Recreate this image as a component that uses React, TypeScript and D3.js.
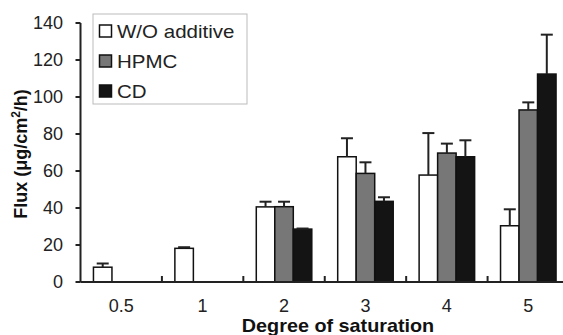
import React from "react";
import * as d3 from "d3";

const categories = ["0.5", "1", "2", "3", "4", "5"];
const seriesNames = ["W/O additive", "HPMC", "CD"];
const woAdditive = [8, 18.2, 40.6, 67.7, 57.8, 30.4];
const woAdditiveErr = [2, 0.6, 2.8, 10, 22.7, 8.9];
const hpmc = [null, null, 40.7, 58.7, 69.7, 93];
const hpmcErr = [null, null, 2.7, 6, 5.1, 4.1];
const cd = [null, null, 28.6, 43.6, 67.7, 112.4];
const cdErr = [null, null, 0.3, 2.2, 8.9, 21.3];
const yTicks = [0, 20, 40, 60, 80, 100, 120, 140];

const W = 563;
const H = 335;
const left = 80.5;
const right = 569;
const top = 23;
const bottom = 282;
const font = "'Liberation Sans', Arial, sans-serif";
const colors = ["#ffffff", "#777777", "#141414"];

export default function App() {
  const x0 = d3.scaleBand<string>().domain(categories).range([left, right]).paddingInner(0).paddingOuter(0);
  const x1 = d3.scaleBand<string>().domain(seriesNames).range([0, x0.bandwidth()]).paddingInner(0).paddingOuter(0.7);
  const y = d3.scaleLinear().domain([0, 140]).range([bottom, top]);

  const series = [
    { name: seriesNames[0], vals: woAdditive, errs: woAdditiveErr },
    { name: seriesNames[1], vals: hpmc, errs: hpmcErr },
    { name: seriesNames[2], vals: cd, errs: cdErr },
  ];

  return (
    <svg width={W} height={H} style={{ position: "absolute", left: 0, top: 0, background: "#fff" }} fontFamily={font}>
      {/* bars */}
      {series.map((s, si) =>
        categories.map((c, ci) => {
          const v = s.vals[ci];
          if (v == null) return null;
          const bx = (x0(c) as number) + (x1(s.name) as number);
          const bw = x1.bandwidth();
          return (
            <rect key={`b${si}-${ci}`} x={bx} y={y(v)} width={bw} height={bottom - y(v)}
              fill={colors[si]} stroke="#111" strokeWidth={1.5} />
          );
        })
      )}
      {/* error bars */}
      {series.map((s, si) =>
        categories.map((c, ci) => {
          const v = s.vals[ci];
          const e = s.errs[ci];
          if (v == null || e == null) return null;
          const cx = (x0(c) as number) + (x1(s.name) as number) + x1.bandwidth() / 2;
          return (
            <g key={`e${si}-${ci}`} stroke="#222" strokeWidth={2}>
              <line x1={cx} x2={cx} y1={y(v)} y2={y(v + e)} />
              <line x1={cx - 6} x2={cx + 6} y1={y(v + e)} y2={y(v + e)} />
            </g>
          );
        })
      )}
      {/* y axis */}
      <line x1={left} x2={left} y1={top} y2={bottom} stroke="#222" strokeWidth={2} />
      {yTicks.map((t) => (
        <g key={`yt${t}`}>
          <line x1={left - 5} x2={left} y1={y(t)} y2={y(t)} stroke="#222" strokeWidth={2} />
          <text x={63} y={y(t)} dy="0.35em" textAnchor="end" fontSize={18} fill="#222">{t}</text>
        </g>
      ))}
      {/* x axis */}
      <line x1={left} x2={right} y1={bottom} y2={bottom} stroke="#222" strokeWidth={2} />
      {categories.slice(1).map((c) => (
        <line key={`xt${c}`} x1={x0(c) as number} x2={x0(c) as number} y1={bottom - 6} y2={bottom} stroke="#222" strokeWidth={2} />
      ))}
      {categories.map((c) => (
        <text key={`xl${c}`} x={(x0(c) as number) + x0.bandwidth() / 2} y={311.5} textAnchor="middle" fontSize={18} fill="#222">{c}</text>
      ))}
      {/* axis titles */}
      <text transform={`translate(338,332) scale(1.1,1)`} textAnchor="middle" fontSize={18} fontWeight="bold" fill="#111">Degree of saturation</text>
      <text transform={`translate(27,154) rotate(-90)`} textAnchor="middle" fontSize={18} fontWeight="bold" fill="#111">
        Flux (μg/cm<tspan fontSize={12} dy={-7}>2</tspan><tspan dy={7}>/h)</tspan>
      </text>
      {/* legend */}
      <rect x={93} y={14} width={154} height={90} fill="#fff" stroke="#bbb" strokeWidth={1} />
      {seriesNames.map((n, i) => {
        const cy = 31 + i * 30;
        return (
          <g key={`lg${i}`}>
            <rect x={99.5} y={cy - 6} width={12} height={12} fill={colors[i]} stroke="#111" strokeWidth={1.5} />
            <text transform={`translate(117,${cy + 6.5}) scale(1.14,1)`} fontSize={18} fill="#222">{n}</text>
          </g>
        );
      })}
    </svg>
  );
}
